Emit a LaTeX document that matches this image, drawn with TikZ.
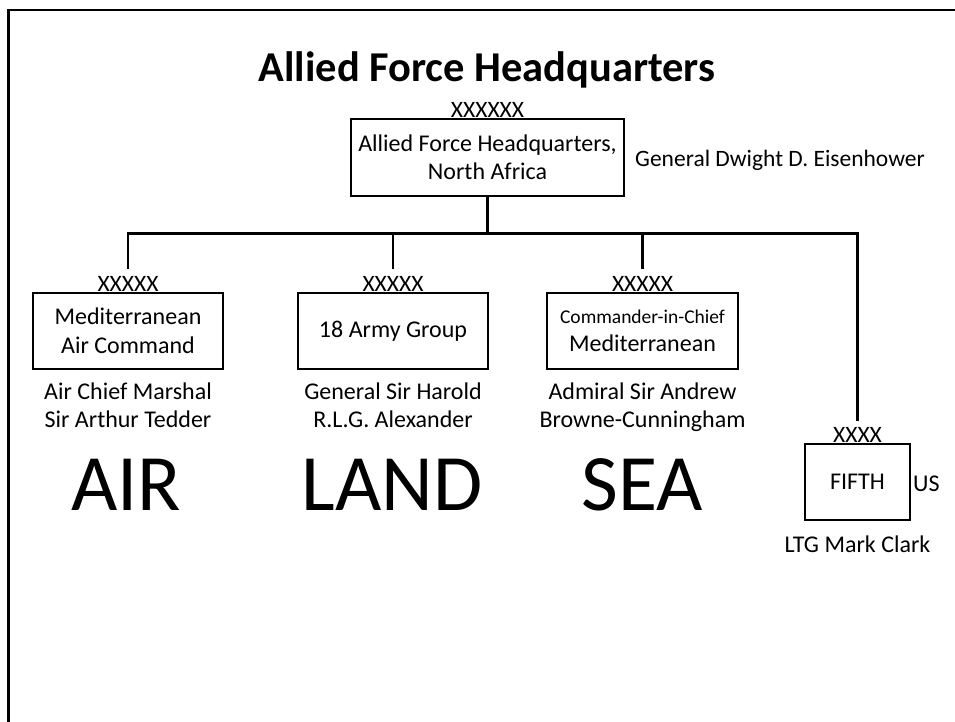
\documentclass[tikz,border=0pt]{standalone}
\usepackage{fontspec}
\setmainfont{Carlito}
\usetikzlibrary{positioning}
\tikzset{
  unit/.style={rectangle, draw, line width=2.75pt, align=center,
               font=\fontsize{24}{28.5}\selectfont, inner sep=1pt},
  echelon/.style={anchor=base, inner sep=0pt, font=\fontsize{23.5}{23.5}\selectfont},
  cmdr/.style={anchor=base, align=center, inner sep=0pt,
               font=\fontsize{24}{28}\selectfont},
  realm/.style={anchor=base, inner sep=0pt, font=\fontsize{80}{80}\selectfont},
  link/.style={line width=2.75pt},
}

\begin{document}
\begin{tikzpicture}[x=1pt, y=-1pt]
  \useasboundingbox (0,0) rectangle (955,722);
  \clip (0,0) rectangle (955,722);
  % slide frame
  \draw[link] (8.5,760) -- (8.5,10) -- (990,10);

  \node[anchor=base, font=\bfseries\fontsize{42.5}{42.5}\selectfont] (title) at (487,82) {Allied Force Headquarters};

  % headquarters
  \node[unit, minimum width=273pt, minimum height=77pt] (hq) at (487.5,157.5) {Allied Force Headquarters,\\North Africa};
  \node[echelon] (hqx) at (hq.north) {XXXXXX};
  \node[anchor=base west, inner sep=0pt, font=\fontsize{23.5}{23.5}\selectfont] (ike) at (635,167) {General Dwight D. Eisenhower};

  % component commands
  \node[unit, minimum width=190pt, minimum height=76pt] (air)  at (128,331)   {Mediterranean\\Air Command};
  \node[unit, minimum width=190pt, minimum height=76pt] (land) at (393,331)   {18 Army Group};
  \node[unit, minimum width=191pt, minimum height=76pt] (sea)  at (642.5,331) {{\fontsize{19.5}{22}\selectfont Commander-in-Chief}\\Mediterranean};
  \node[unit, minimum width=105pt, minimum height=76pt] (fifth) at (857.5,482) {FIFTH};

  \node[echelon] (airx)   at (air.north)   {XXXXX};
  \node[echelon] (landx)  at (land.north)  {XXXXX};
  \node[echelon] (seax)   at (sea.north)   {XXXXX};
  \node[echelon] (fifthx) at (fifth.north) {XXXX};

  \node[cmdr] (airname)   at ([yshift=-57pt]air.south)   {Air Chief Marshal\\Sir Arthur Tedder};
  \node[cmdr] (landname)  at ([yshift=-57pt]land.south)  {General Sir Harold\\R.L.G. Alexander};
  \node[cmdr] (seaname)   at ([yshift=-57pt]sea.south)   {Admiral Sir Andrew\\Browne-Cunningham};
  \node[cmdr] (fifthname) at ([yshift=-31pt]fifth.south) {LTG Mark Clark};
  \node[anchor=base west, inner sep=0pt, font=\fontsize{24}{24}\selectfont] (us) at (913,491) {US};

  \node[realm] (airword)  at (126,510) {AIR};
  \node[realm] (landword) at (392,510) {LAND};
  \node[realm] (seaword)  at (642,510) {SEA};

  % connectors
  \coordinate[above=23pt of air.north]   (airtick);
  \coordinate[above=23pt of land.north]  (landtick);
  \coordinate[above=23pt of sea.north]   (seatick);
  \coordinate[above=22pt of fifth.north] (fifthtick);

  \draw[link] (hq.south) -- ++(0,36) coordinate (bus);
  \draw[link] (airtick) |- (bus) -| (fifthtick);
  \draw[link] (landtick) -- (landtick |- bus);
  \draw[link] (seatick) -- (seatick |- bus);
\end{tikzpicture}
\end{document}
